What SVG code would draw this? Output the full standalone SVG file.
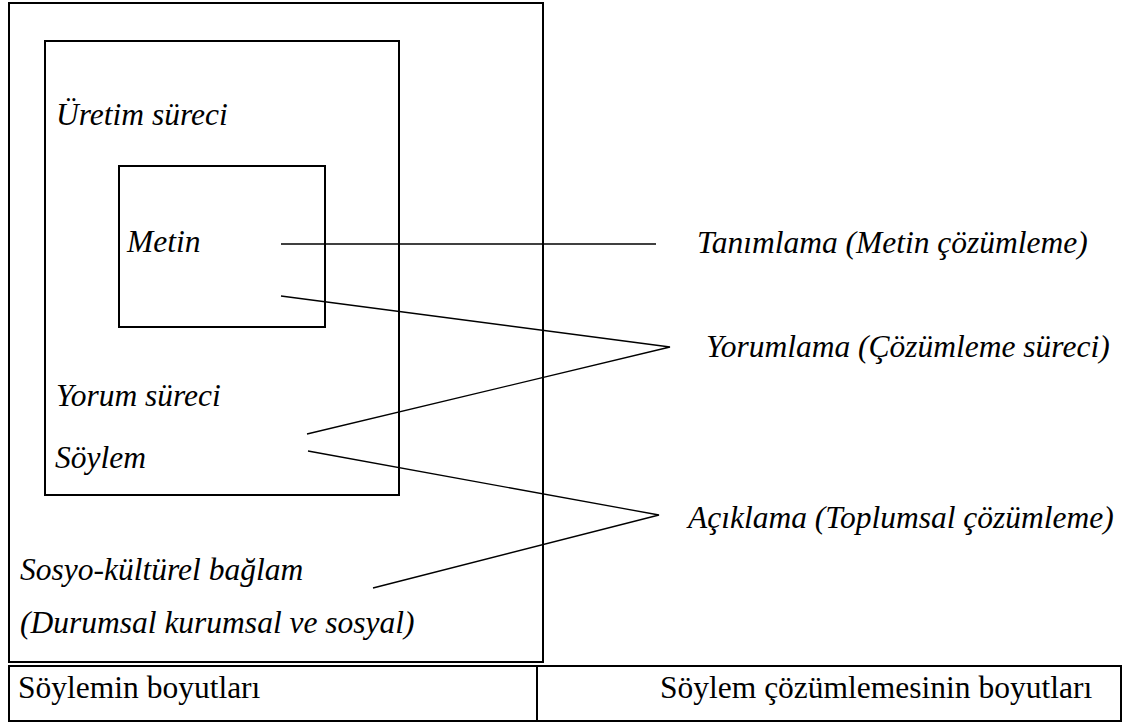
<svg xmlns="http://www.w3.org/2000/svg" width="1133" height="724" viewBox="0 0 1133 724">
<style>
.box{fill:none;stroke:#000;stroke-width:2}
.ln{stroke:#000;stroke-width:1.3;fill:none}
.it{font-family:'Liberation Serif','DejaVu Serif',serif;font-style:italic;font-size:31.5px;fill:#000}
.rg{font-family:'Liberation Serif','DejaVu Serif',serif;font-size:31.5px;fill:#000}
</style>
<rect width="1133" height="724" fill="#fff"/>
<g id="outer">
<rect class="box" x="9" y="3" width="534" height="659"/>
<text class="it" x="20" y="580">Sosyo-kültürel bağlam</text>
<text class="it" x="20" y="633">(Durumsal kurumsal ve sosyal)</text>
</g>
<g id="middle">
<rect class="box" x="45" y="41" width="354" height="454"/>
<text class="it" x="56" y="125">Üretim süreci</text>
<text class="it" x="56" y="406">Yorum süreci</text>
<text class="it" x="55" y="468">Söylem</text>
</g>
<g id="inner">
<rect class="box" x="119" y="166" width="206" height="161"/>
<text class="it" x="127" y="252">Metin</text>
</g>
<g id="tanimlama"><text class="it" x="697" y="253">Tanımlama (Metin çözümleme)</text></g>
<g id="yorumlama"><text class="it" x="706" y="357">Yorumlama (Çözümleme süreci)</text></g>
<g id="aciklama"><text class="it" x="688" y="528">Açıklama (Toplumsal çözümleme)</text></g>
<g id="table">
<rect class="box" x="9" y="666" width="1112" height="55"/>
<line class="box" x1="537" y1="666" x2="537" y2="721"/>
<text class="rg" x="18" y="698">Söylemin boyutları</text>
<text class="rg" x="660" y="698">Söylem çözümlemesinin boyutları</text>
</g>
<g id="connectors">
<line class="ln" x1="281" y1="244" x2="656" y2="244"/>
<polyline class="ln" points="281,296 670,347 307,434"/>
<polyline class="ln" points="308,451 659,515 373,588"/>
</g>
</svg>
